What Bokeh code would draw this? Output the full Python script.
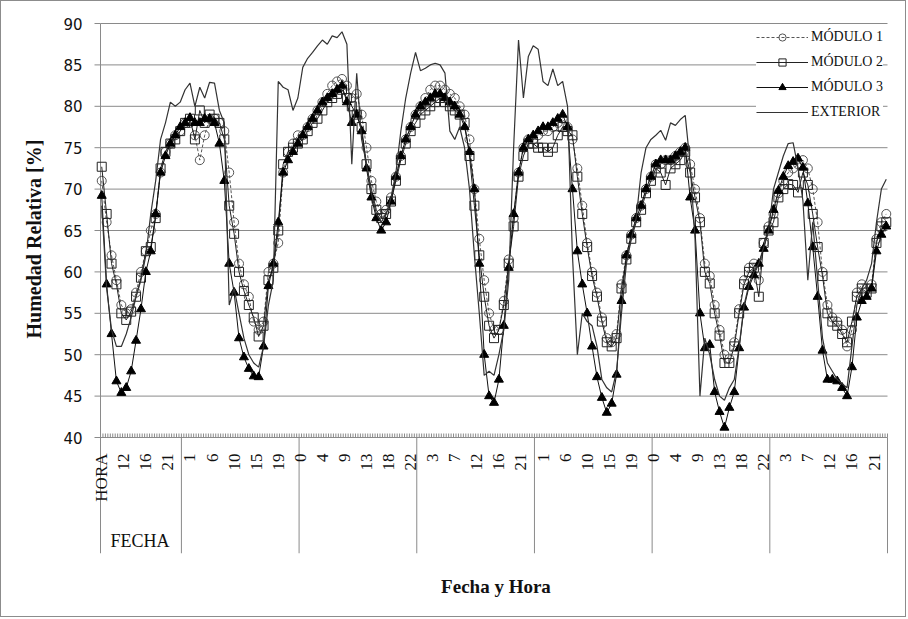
import math
from bokeh.plotting import figure
from bokeh.models import (Range1d, FixedTicker, Legend, LegendItem, Title)
from bokeh.core.properties import value
from bokeh.embed import file_html
from bokeh.resources import INLINE

# Relative humidity [%], one reading per hour, first reading at 07:30 of day 1.
# The category axis runs in half-hour steps, so reading i sits on category 2*i.
modulo1 = [
    71, 66, 62, 59, 56, 55, 55.5, 57.5, 60, 62.5, 65, 67, 72, 74.5, 75.5, 76.5, 77,
    78, 78, 76.5, 73.5, 76.5, 78.5, 78.5, 78, 77, 72, 66, 61, 58.5, 57, 54, 53, 54, 60, 61, 63.5, 72, 74.5, 75.5, 76.5,
    76.5, 77.5, 78.5, 79.5, 80.5, 81.5, 82.5, 83, 83.3, 82.5, 81, 81.5, 79, 75, 71, 68.5, 67, 67.5, 69, 71.5, 74, 76, 77.5, 79,
    80, 81, 82, 82.5, 82.5, 82, 81.5, 81, 80, 79, 76, 70, 64, 59, 55, 53, 53, 56.5, 61.5, 66.5, 72, 75, 76, 76,
    76.5, 77, 77, 77.5, 78, 78.5, 77.5, 76, 72.5, 68, 63.5, 60, 57.5, 54.5, 52, 51.5, 52.5, 58.5, 62, 64.5, 66.5, 68, 70, 71.5,
    73, 73, 73.5, 73.5, 74, 74.5, 75, 73, 70, 66.5, 61, 59.5, 56, 53, 50, 49.5, 51.5, 55.5, 59, 60.5, 61, 59, 63.5, 65.5,
    67, 69.5, 71, 72, 72.5, 73, 73.5, 72.5, 70, 66, 60, 56, 54.5, 54, 53, 51, 53, 57.5, 58.5, 58, 58.5, 64, 66, 67,
]
modulo2 = [
    72.7, 67, 61, 58.5, 55, 54.2, 55.2, 57, 59.3, 62.5, 63, 66.5, 72.5, 74.5, 75.5, 76, 77,
    78, 78.5, 76, 79.5, 78, 79, 78.5, 78, 76, 68, 64.6, 60, 57.7, 56, 54.5, 52.2, 53.5, 59, 60.5, 65, 73, 74.5, 75, 75.5,
    76, 77, 78, 78.5, 79.5, 80.5, 81, 81.5, 82, 81, 80, 79, 77.5, 73, 70, 67.5, 66.5, 67, 68.5, 71, 73.5, 75.5, 77, 78,
    79, 79.5, 80, 80.5, 81, 80.5, 80, 79.5, 79, 78, 74, 68, 62, 57, 53.5, 52, 53, 56, 61, 65.5, 71.5, 74, 75.5, 75.5,
    75, 75, 74.5, 75, 76.5, 77.5, 77, 76.5, 71.5, 67, 63, 59.5, 57, 54, 51.5, 51, 52, 58, 61.5, 64, 66, 67.5, 69.5, 71,
    72.5, 72, 70.5, 72.5, 73, 73.5, 74.5, 72, 69, 66, 60, 58.6, 55, 52.3, 49, 49, 51, 55, 58.5, 60, 60.5, 57, 63.5, 65,
    66, 69, 70, 70.6, 70.5, 69.6, 72, 70.5, 67, 63, 59.5, 55, 54, 53.5, 52.5, 51.5, 54, 57, 58, 57.5, 58, 63.5, 65.5, 66,
]
modulo3 = [
    69.2, 58.5, 52.5, 46.8, 45.4, 46, 48, 51.7, 55.5, 60, 62.5, 67, 72, 74, 75.5, 76.5, 77.5,
    78, 78.6, 78, 78, 78.5, 78.5, 78, 75.5, 71, 61, 57.5, 52, 49.7, 48.3, 47.4, 47.3, 51, 58.3, 61, 66, 72, 73.5, 74.5, 75.5,
    76.5, 77.5, 78.5, 79.5, 80.5, 81, 81.5, 82, 82.5, 80.5, 78, 79, 77, 72.5, 69, 66.5, 65, 66, 68.5, 71.5, 74, 76, 77.5, 79,
    80, 80.5, 81, 81.5, 81.5, 81, 80.5, 80, 79, 77.5, 74.5, 70, 61, 50, 45, 44.2, 47, 53.5, 60.5, 67, 72, 75, 76, 76.5,
    77, 77.5, 77.5, 78, 78.5, 79, 77.5, 70, 62.5, 58.5, 55, 51, 47.3, 44.8, 43, 44.1, 47.6, 56.5, 62, 64.5, 66.5, 68, 70, 71.5,
    73, 73.5, 73.5, 73.5, 74, 74.5, 75, 69, 65, 55, 50.8, 51.2, 45.5, 43.1, 41.2, 43.6, 45.5, 50.8, 55.7, 58.2, 59.6, 61, 62.8, 65,
    67.5, 69.8, 71.5, 72.8, 73.3, 73.7, 72.6, 68.3, 63, 57, 50.5, 47, 47, 46.8, 46, 45, 48.5, 54.5, 56.5, 57, 58, 62.5, 64.5, 65.5,
]
exterior = [
    68, 58, 53, 51, 51, 52.5, 54.5, 57, 59, 62, 67, 71, 76, 78, 80.5, 80, 80.5,
    82, 82.8, 80, 82.3, 81, 82.9, 82.8, 79.5, 78, 56, 58, 55, 52, 50, 49, 48.5, 51, 56, 59, 83, 82.3, 82, 79.5, 81,
    84.7, 85.8, 86.5, 87.3, 88, 87.5, 88.5, 88.3, 89, 87.5, 73, 84, 76, 73, 69.5, 67, 66, 67, 69, 72, 77, 81, 84, 86.5,
    84.3, 84.6, 85, 85.2, 85, 84, 77, 76, 77.5, 75, 70, 62, 55, 47.5, 48, 47.5, 50, 53, 59, 75, 88, 81, 86, 87.3,
    86.9, 83, 82.5, 84.5, 82.5, 83, 80, 62, 50, 55, 54, 53.5, 51, 47, 46, 45.5, 48, 55, 61, 64, 66.5, 72, 75, 76,
    76.5, 77.1, 75.9, 78, 77.7, 78.4, 78.9, 73, 64, 45, 52, 50, 47, 45, 44.5, 46, 47, 51, 56, 58.5, 60, 61, 63, 65,
    70, 72, 74, 75.5, 75.6, 72.6, 68.6, 59, 66, 59, 52, 49, 48, 47, 46.5, 46, 51, 56, 58, 59, 61, 66, 70, 71.2,
]

# hour labels shown every 9 half-hour categories (4.5 h)
hora_labels = ["HORA", "12", "16", "21", "1", "6", "10", "15", "19", "0", "4", "9", "13", "18",
               "22", "3", "7", "12", "16", "21", "1", "6", "10", "15", "19", "0", "4", "9", "13",
               "18", "22", "3", "7", "12", "16", "21"]
fecha_label = "FECHA"
y_ticks = [40, 45, 50, 55, 60, 65, 70, 75, 80, 85, 90]

N_CAT = 321            # half-hour categories on the axis
LABEL_EVERY = 9
FIRST_MIDNIGHT = 32.5  # boundary between 23:30 and 00:00 of day 1
CATS_PER_DAY = 48

x = [2 * i for i in range(len(modulo1))]

GRID = "#8a8a8a"
TEXT = "#111111"
SERIF = "Liberation Serif"

# pixel geometry of the plotting area
PX_PER_UNIT = 414 / 50.0     # value axis
PX_PER_CAT = 787 / N_CAT     # category axis
BAND_PX = 116                # hour/date band under the value axis
PAD_LEFT_PX = 8              # room for the first hour label left of the axis
PAD_RIGHT_PX = 12            # room for the legend labels
PAD_TOP_PX = 1               # keeps the top grid line unclipped

cat_lo, cat_hi = -0.5, N_CAT - 0.5
y_min, y_max = 40, 90
y_band = y_min - BAND_PX / PX_PER_UNIT
xpp = 1 / PX_PER_CAT
ypp = 1 / PX_PER_UNIT

FRAME_LEFT = 99 - PAD_LEFT_PX   # canvas px

p = figure(width=906, height=617,
           x_range=Range1d(cat_lo - PAD_LEFT_PX * xpp, cat_hi + PAD_RIGHT_PX * xpp),
           y_range=Range1d(y_band, y_max + PAD_TOP_PX * ypp),
           output_backend="svg", toolbar_location=None,
           min_border_left=FRAME_LEFT, min_border_right=20 - PAD_RIGHT_PX,
           min_border_top=22 - PAD_TOP_PX, min_border_bottom=65)
p.styles = {"border": "1px solid #8c8c8c"}
p.outline_line_color = None
p.background_fill_color = "white"
p.border_fill_color = "white"
p.xgrid.visible = False
p.ygrid.visible = False

# horizontal grid (the 40 line doubles as the category axis line)
p.segment(x0=[cat_lo] * len(y_ticks), y0=y_ticks, x1=[cat_hi] * len(y_ticks), y1=y_ticks,
          line_color=GRID, line_width=1)

# value axis line and outward ticks
p.segment(x0=[cat_lo], y0=[y_band], x1=[cat_lo], y1=[y_max], line_color=GRID, line_width=1)
p.segment(x0=[cat_lo - 6 * xpp] * len(y_ticks), y0=y_ticks, x1=[cat_lo] * len(y_ticks), y1=y_ticks,
          line_color=GRID, line_width=1)

p.yaxis.ticker = FixedTicker(ticks=y_ticks)
p.yaxis.axis_line_color = None
p.yaxis.major_tick_line_color = None
p.yaxis.major_tick_out = 0
p.yaxis.major_tick_in = 0
p.yaxis.minor_tick_line_color = None
p.yaxis.major_label_standoff = 10
p.yaxis.major_label_text_font = "DejaVu Sans"
p.yaxis.major_label_text_font_size = "15px"
p.yaxis.major_label_text_color = TEXT

ytitle = Title(text="Humedad Relativa [%]", align="left", offset=215, standoff=30,
               vertical_align="middle",
               text_font=SERIF, text_font_size="20px", text_font_style="bold",
               text_color=TEXT)
p.add_layout(ytitle, "left")

# bottom axis only carries the title
p.xaxis.ticker = FixedTicker(ticks=[])
p.xaxis.axis_line_color = None
p.xaxis.major_tick_out = 0
p.xaxis.major_tick_in = 0
p.xaxis.minor_tick_line_color = None
p.xaxis.axis_label = "Fecha y Hora"
p.xaxis.axis_label_text_font = SERIF
p.xaxis.axis_label_text_font_style = "bold"
p.xaxis.axis_label_text_font_size = "19px"
p.xaxis.axis_label_text_color = TEXT
p.xaxis.axis_label_standoff = 22

# small tick per half-hour category
cat_edges = [cat_lo + k for k in range(N_CAT + 1)]
p.segment(x0=cat_edges, y0=[y_min] * len(cat_edges), x1=cat_edges,
          y1=[y_min + 4 * ypp] * len(cat_edges), line_color=GRID, line_width=1)

# day dividers of the date row
day_edges = [FIRST_MIDNIGHT + CATS_PER_DAY * d for d in range(7)]
p.segment(x0=day_edges, y0=[y_min] * len(day_edges), x1=day_edges,
          y1=[y_band] * len(day_edges), line_color=GRID, line_width=1)

# hour labels, rotated, hanging below the axis
label_ticks = [LABEL_EVERY * k for k in range(len(hora_labels))]
p.text(x=label_ticks, y=[y_min - 16 * ypp] * len(label_ticks), text=hora_labels,
       angle=math.pi / 2, text_align="right", text_baseline="middle",
       text_font=value(SERIF), text_font_size=value("17px"), text_color=TEXT)

p.text(x=[3.6], y=[y_min - 103 * ypp], text=[fecha_label],
       text_align="left", text_baseline="middle",
       text_font=value(SERIF), text_font_size=value("18px"), text_color=TEXT)

# series
l1 = p.line(x, modulo1, line_color="#555555", line_width=1, line_dash="3 2")
s1 = p.scatter(x, modulo1, marker="circle", size=9, line_color="#555555",
               fill_color=None, line_width=1)
l2 = p.line(x, modulo2, line_color="#222222", line_width=1)
s2 = p.scatter(x, modulo2, marker="square", size=9, line_color="#222222",
               fill_color=None, line_width=1)
l3 = p.line(x, modulo3, line_color="#111111", line_width=1)
s3 = p.scatter(x, modulo3, marker="triangle", size=9, line_color="#000000",
               fill_color="#000000", line_width=1)
l4 = p.line(x, exterior, line_color="#333333", line_width=1.2)

# legend box: left edge at 756 px, bottom at 121 px of the canvas
legend = Legend(items=[
    LegendItem(label="MÓDULO 1", renderers=[l1, s1]),
    LegendItem(label="MÓDULO 2", renderers=[l2, s2]),
    LegendItem(label="MÓDULO 3", renderers=[l3, s3]),
    LegendItem(label="EXTERIOR", renderers=[l4]),
], location=(756 - 1 - FRAME_LEFT, 432))
legend.padding = 2
legend.margin = 0
legend.spacing = 7
legend.glyph_width = 52
legend.glyph_height = 18
legend.label_height = 18
legend.label_standoff = 3
legend.label_text_font = SERIF
legend.label_text_font_size = "14px"
legend.label_text_color = TEXT
legend.background_fill_color = "white"
legend.background_fill_alpha = 1.0
legend.border_line_color = None
p.add_layout(legend)

open("out.html", "w").write(file_html(p, INLINE))
